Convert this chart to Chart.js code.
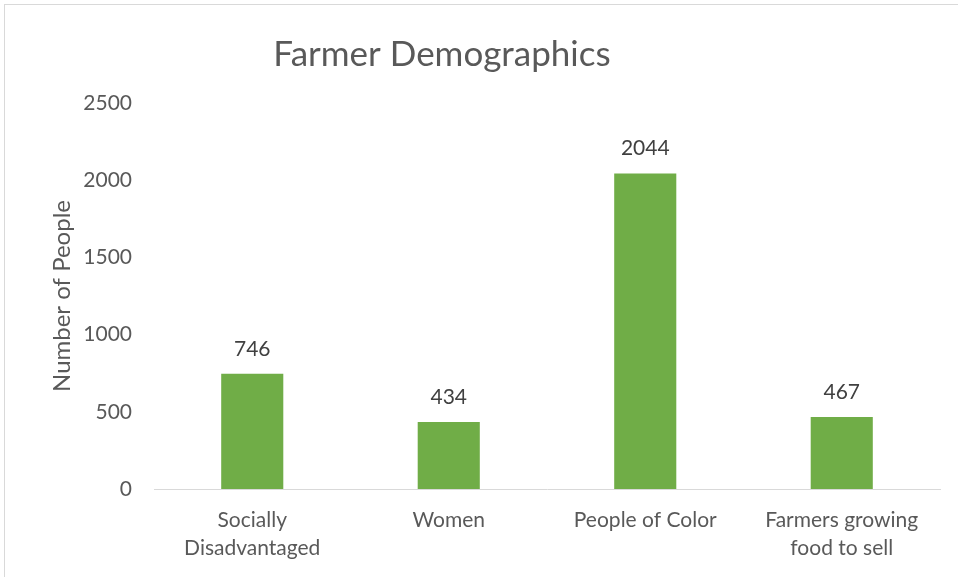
<!DOCTYPE html>
<html lang="en">
<head>
<meta charset="UTF-8">
<title>Farmer Demographics</title>
<script src="https://cdn.jsdelivr.net/npm/chart.js"></script>
<style>
*{margin:0;padding:0;box-sizing:border-box;}
body{background:#fff;width:958px;height:577px;overflow:hidden;position:relative;}
.frame{position:absolute;left:4px;top:4px;width:1000px;height:620px;border:1px solid #d9d9d9;}
.wrap{position:absolute;left:0;top:0;width:958px;height:577px;}
</style>
</head>
<body>
<div class="frame"></div>
<div class="wrap"><canvas id="chart"></canvas></div>
<script>
const categories=[["Socially","Disadvantaged"],"Women","People of Color",["Farmers growing","food to sell"]];
const counts=[746,434,2044,467];
const yTicks=[0,500,1000,1500,2000,2500];

const FONT="Lato, 'Open Sans', sans-serif";

// value labels above bars + chart title
const labelPlugin={
id:"labels",
afterDatasetsDraw(chart){
const ctx=chart.ctx;
const meta=chart.getDatasetMeta(0);
ctx.save();
ctx.font="21px "+FONT;
ctx.fillStyle="#404040";
ctx.textAlign="center";
ctx.textBaseline="middle";
meta.data.forEach((bar,i)=>{
ctx.fillText(counts[i],bar.x,bar.y-25);
});
ctx.font="35px "+FONT;
ctx.fillStyle="#595959";
ctx.fillText("Farmer Demographics",442,55);
ctx.restore();
}
};

new Chart(document.getElementById("chart"),{
type:"bar",
data:{
labels:categories,
datasets:[{
data:counts,
backgroundColor:"#70ad47",
barPercentage:0.316,
categoryPercentage:1
}]
},
options:{
responsive:true,
maintainAspectRatio:false,
animation:false,
layout:{padding:{left:40,right:18,top:103,bottom:0}},
plugins:{legend:{display:false},title:{display:false},tooltip:{enabled:false}},
scales:{
x:{
grid:{display:false,drawTicks:false},
border:{display:true,color:"#d9d9d9",width:1},
ticks:{color:"#595959",font:{family:FONT,size:21,lineHeight:1.33},padding:17,maxRotation:0,autoSkip:false},
afterFit(s){s.height=88;}
},
y:{
min:0,max:2500,
grid:{display:false,drawTicks:false},
border:{display:false},
afterBuildTicks(s){s.ticks=yTicks.map(v=>({value:v}));},
ticks:{color:"#595959",font:{family:FONT,size:21},padding:22,callback:v=>String(v)},
title:{display:true,text:"Number of People",color:"#595959",font:{family:FONT,size:24},padding:{top:8,bottom:0}},
afterFit(s){s.width=114;}
}
}
},
plugins:[labelPlugin]
});
</script>
</body>
</html>
